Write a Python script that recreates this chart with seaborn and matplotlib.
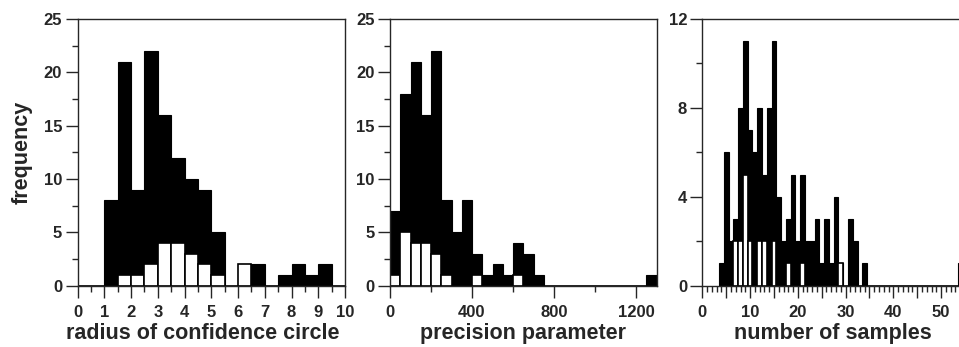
import matplotlib
matplotlib.use('Agg')
import matplotlib.pyplot as plt
import seaborn as sns
from matplotlib.ticker import MultipleLocator, FixedLocator

# radius of confidence circle (bin centres, width 0.5)
radius_x = [1.25, 1.75, 2.25, 2.75, 3.25, 3.75, 4.25, 4.75, 5.25, 6.25, 6.75, 7.75, 8.25, 8.75, 9.25]
radius_all = [8, 21, 9, 22, 16, 12, 10, 9, 5, 2, 2, 1, 2, 1, 2]
radius_sub = [0, 1, 1, 2, 4, 4, 3, 2, 1, 2, 0, 0, 0, 0, 0]

# precision parameter (bin centres, width 50)
kappa_x = [25, 75, 125, 175, 225, 275, 325, 375, 425, 475, 525, 575, 625, 675, 725, 1275]
kappa_all = [7, 18, 21, 16, 22, 8, 5, 8, 3, 1, 2, 1, 4, 3, 1, 1]
kappa_sub = [1, 5, 4, 4, 3, 1, 0, 0, 1, 0, 0, 0, 1, 0, 0, 0]

# number of samples
n_x = [4, 5, 6, 7, 8, 9, 10, 11, 12, 13, 14, 15, 16, 17, 18, 19, 20, 21, 22, 23,
       24, 25, 26, 27, 28, 29, 30, 31, 32, 33, 34, 54]
n_all = [1, 6, 2, 3, 8, 11, 7, 6, 8, 5, 8, 11, 4, 2, 3, 5, 2, 5, 2, 2,
         3, 1, 3, 1, 4, 1, 0, 3, 2, 0, 1, 1]
n_sub = [0, 0, 0, 2, 2, 5, 2, 0, 2, 2, 0, 2, 0, 0, 1, 0, 0, 1, 0, 0,
         0, 0, 0, 0, 0, 1, 0, 0, 0, 0, 0, 0]

sns.set_style('ticks')
plt.rcParams['font.family'] = ['Liberation Sans', 'DejaVu Sans']
plt.rcParams['font.weight'] = 'bold'
plt.rcParams['axes.linewidth'] = 1.0

W, H = 959, 347
fig = plt.figure(figsize=(W / 100, H / 100), dpi=100)
bot = (H - 285.7) / H
hgt = (285.7 - 19) / H
ax1 = fig.add_axes([77.5 / W, bot, 267.5 / W, hgt])
ax2 = fig.add_axes([390 / W, bot, 266.5 / W, hgt])
ax3 = fig.add_axes([702.3 / W, bot, 267.5 / W, hgt])

black = dict(color='black', edgecolor='black', linewidth=0.8, alpha=1)
white = dict(color='white', edgecolor='black', linewidth=1.2, alpha=1)

sns.histplot(x=radius_x, weights=radius_all, binwidth=0.5, binrange=(0, 10), ax=ax1, **black)
sns.histplot(x=radius_x, weights=radius_sub, binwidth=0.5, binrange=(0, 10), ax=ax1, **white)

sns.histplot(x=kappa_x, weights=kappa_all, binwidth=50, binrange=(0, 1300), ax=ax2, **black)
sns.histplot(x=kappa_x, weights=kappa_sub, binwidth=50, binrange=(0, 1300), ax=ax2, **white)

sns.histplot(x=n_x, weights=n_all, discrete=True, ax=ax3, **black)
sns.histplot(x=n_x, weights=n_sub, discrete=True, ax=ax3, **white)

ax1.set_xlim(0, 10)
ax2.set_xlim(0, 1300)
ax3.set_xlim(0, 56)
ax1.set_ylim(0, 25)
ax2.set_ylim(0, 25)
ax3.set_ylim(0, 12)

ax1.xaxis.set_major_locator(MultipleLocator(1))
ax1.xaxis.set_minor_locator(MultipleLocator(0.5))
ax2.xaxis.set_major_locator(FixedLocator([0, 400, 800, 1200]))
ax2.xaxis.set_minor_locator(FixedLocator([200, 600, 1000]))
ax3.xaxis.set_major_locator(FixedLocator([0, 5, 10, 15, 20, 25, 30, 35, 40, 45, 50, 55]))
ax3.set_xticklabels(['0', '', '10', '', '20', '', '30', '', '40', '', '50', ''])
ax3.xaxis.set_minor_locator(MultipleLocator(1))
for ax in (ax1, ax2):
    ax.yaxis.set_major_locator(MultipleLocator(5))
    ax.yaxis.set_minor_locator(MultipleLocator(2.5))
ax3.yaxis.set_major_locator(MultipleLocator(4))
ax3.yaxis.set_minor_locator(MultipleLocator(2))

for ax in (ax1, ax2, ax3):
    for s in ax.spines.values():
        s.set_visible(True)
        s.set_linewidth(1.0)
    ax.tick_params(which='major', length=8.5, width=1.0, labelsize=12)
    ax.tick_params(which='minor', length=4, width=1.0)
    ax.tick_params(axis='x', which='major', pad=5.5)
    ax.tick_params(axis='y', which='major', pad=2.5)
    for lab in ax.get_xticklabels() + ax.get_yticklabels():
        lab.set_fontweight('bold')
    ax.set_ylabel('')

lab_font = dict(fontsize=15.5, fontweight='bold')
ax1.set_xlabel('radius of confidence circle', **lab_font)
ax2.set_xlabel('precision parameter', **lab_font)
ax3.set_xlabel('number of samples', **lab_font)
ax1.xaxis.set_label_coords((203 - 77.5) / 267.5, -0.14)
ax2.xaxis.set_label_coords(0.5, -0.14)
ax3.xaxis.set_label_coords((833 - 702.3) / 267.5, -0.14)
ax1.set_ylabel('frequency', **lab_font)
ax1.yaxis.set_label_coords(-0.167, 0.5)

fig.savefig('out.png', dpi=100)
